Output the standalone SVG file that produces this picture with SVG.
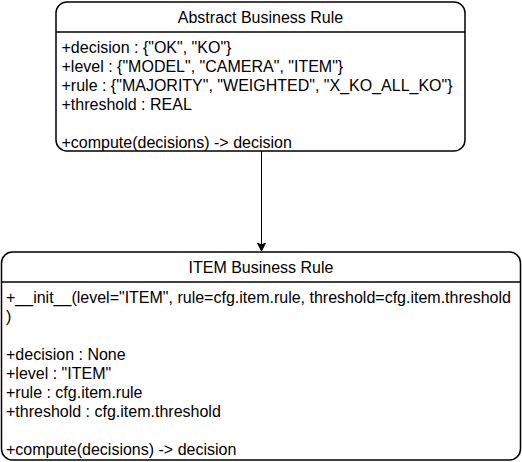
<svg xmlns="http://www.w3.org/2000/svg" width="522" height="462" viewBox="0 0 522 462">
<style>
.box{fill:#fff;stroke:#000;stroke-width:1.5}
.div{stroke:#000;stroke-width:1.5}
text{font-family:"Liberation Sans",Arial,Helvetica,sans-serif;font-size:16px;fill:#000}
.t{text-anchor:middle}
.conn{stroke:#000;stroke-width:1;fill:none}
</style>
<defs>
<marker id="arr" markerWidth="10" markerHeight="10" refX="8" refY="4" orient="auto" markerUnits="userSpaceOnUse">
<path d="M0,0 L8,4 L0,8 L2,4 Z" fill="#000" stroke="#000" stroke-width="1"/>
</marker>
</defs>
<g id="connectors">
<line class="conn" x1="261.5" y1="151" x2="261.5" y2="251" marker-end="url(#arr)"/>
</g>
<g id="abstract-business-rule">
<rect class="box" x="56" y="2" width="409" height="149" rx="11" ry="11"/>
<line class="div" x1="56" y1="32" x2="465" y2="32"/>
<text class="t" x="260.5" y="23">Abstract Business Rule</text>
<text x="61.5" y="53">+decision : {"OK", "KO"}</text>
<text x="61.5" y="72">+level : {"MODEL", "CAMERA", "ITEM"}</text>
<text x="61.5" y="91">+rule : {"MAJORITY", "WEIGHTED", "X_KO_ALL_KO"}</text>
<text x="61.5" y="110">+threshold : REAL</text>
<text x="61.5" y="148">+compute(decisions) -&gt; decision</text>
</g>
<g id="item-business-rule">
<rect class="box" x="1.5" y="252" width="519" height="208" rx="11" ry="11"/>
<line class="div" x1="1.5" y1="282" x2="520.5" y2="282"/>
<text class="t" x="261" y="273">ITEM Business Rule</text>
<text x="6" y="303">+__init__(level="ITEM", rule=cfg.item.rule, threshold=cfg.item.threshold</text>
<text x="6" y="322">)</text>
<text x="6" y="360">+decision : None</text>
<text x="6" y="379">+level : "ITEM"</text>
<text x="6" y="398">+rule : cfg.item.rule</text>
<text x="6" y="417">+threshold : cfg.item.threshold</text>
<text x="6" y="455">+compute(decisions) -&gt; decision</text>
</g>
</svg>
